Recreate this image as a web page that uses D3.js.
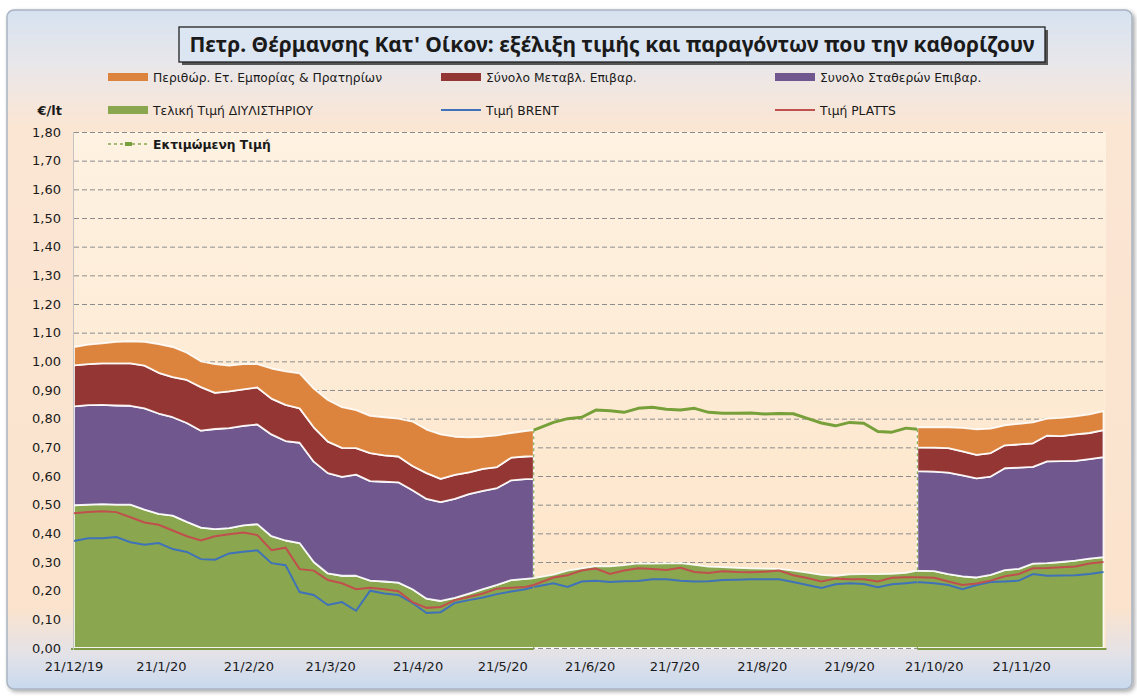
<!DOCTYPE html>
<html>
<head>
<meta charset="UTF-8">
<title>Πετρ. Θέρμανσης Κατ' Οίκον</title>
<script src="https://d3js.org/d3.v7.min.js"></script>
<style>
  body { margin: 0; background: #fff; }
  text { font-family: "DejaVu Sans", Verdana, sans-serif; fill: #1a1a1a; }
</style>
</head>
<body>
<svg id="chart" width="1137" height="696"></svg>
<script>
// ημερομηνίες (κατηγορίες)
const dates = ["2019-12-21","2019-12-26","2019-12-31","2020-01-05","2020-01-10","2020-01-15","2020-01-20","2020-01-25","2020-01-30",
  "2020-02-04","2020-02-09","2020-02-14","2020-02-19","2020-02-24","2020-02-29","2020-03-05","2020-03-10","2020-03-15","2020-03-20",
  "2020-03-25","2020-03-30","2020-04-04","2020-04-09","2020-04-14","2020-04-19","2020-04-24","2020-04-29","2020-05-04","2020-05-09",
  "2020-05-14","2020-05-19","2020-05-24","2020-05-29","2020-06-01",
  "2020-06-08","2020-06-13","2020-06-18","2020-06-23","2020-06-28","2020-07-03","2020-07-08","2020-07-13","2020-07-18","2020-07-23",
  "2020-07-28","2020-08-02","2020-08-07","2020-08-12","2020-08-17","2020-08-22","2020-08-27","2020-09-01","2020-09-06","2020-09-11",
  "2020-09-16","2020-09-21","2020-09-26","2020-10-01","2020-10-06","2020-10-11",
  "2020-10-15","2020-10-21","2020-10-26","2020-10-31","2020-11-05","2020-11-10","2020-11-15","2020-11-20","2020-11-25","2020-11-30",
  "2020-12-05","2020-12-10","2020-12-15","2020-12-20"];

// Τελική Τιμή ΔΙΥΛΙΣΤΗΡΙΟΥ
const refinery = [.498,.50,.502,.50,.50,.483,.468,.462,.44,.42,.415,.418,.428,.432,.39,.375,.366,.30,.26,.252,.252,.235,.232,.228,.205,.172,.164,.175,.19,.205,.22,.237,.241,
  .244,
  .256,.27,.278,.286,.285,.289,.295,.294,.295,.296,.29,.284,.282,.28,.278,.277,.276,.27,.263,.255,.252,.257,.258,.258,.259,.262,
  .27,
  .268,.258,.25,.246,.255,.272,.276,.294,.296,.30,.305,.312,.317];
// Συνολο Σταθερών Επιβαρ.
const fixedCharges = [.345,.347,.346,.346,.345,.353,.35,.343,.345,.338,.349,.349,.347,.348,.355,.347,.35,.35,.35,.345,.353,.347,.348,.35,.345,.348,.345,.345,.347,.343,.338,.348,.348,
  .345,
  null,null,null,null,null,null,null,null,null,null,null,null,null,null,null,null,null,null,null,null,null,null,null,null,null,null,
  .347,
  .347,.354,.352,.346,.343,.355,.353,.338,.355,.352,.348,.347,.349];
// Σύνολο Μεταβλ. Επιβαρ.
const varCharges = [.143,.143,.145,.147,.148,.149,.142,.14,.15,.152,.126,.128,.127,.129,.125,.126,.12,.12,.11,.101,.092,.098,.092,.09,.085,.09,.081,.084,.076,.077,.073,.079,.079,
  .08,
  null,null,null,null,null,null,null,null,null,null,null,null,null,null,null,null,null,null,null,null,null,null,null,null,null,null,
  .083,
  .084,.085,.084,.082,.082,.08,.081,.082,.09,.087,.092,.091,.094];
// Περιθώρ. Ετ. Εμπορίας & Πρατηρίων
const margin = [.064,.068,.07,.075,.077,.083,.10,.105,.095,.09,.10,.09,.088,.081,.105,.117,.122,.135,.145,.142,.133,.13,.133,.132,.155,.152,.155,.133,.122,.112,.111,.086,.089,
  .091,
  null,null,null,null,null,null,null,null,null,null,null,null,null,null,null,null,null,null,null,null,null,null,null,null,null,null,
  .07,
  .071,.073,.082,.089,.085,.07,.072,.073,.059,.064,.063,.065,.066];
// Τιμή BRENT
const brent = [.373,.383,.383,.387,.369,.36,.366,.345,.335,.31,.308,.33,.336,.341,.296,.289,.195,.185,.15,.16,.13,.2,.19,.185,.157,.122,.125,.157,.167,.176,.188,.197,.205,
  .213,
  .226,.213,.232,.235,.23,.233,.234,.24,.24,.235,.232,.233,.237,.238,.24,.24,.24,.23,.22,.209,.222,.226,.223,.212,.222,.226,
  .23,
  .226,.22,.205,.22,.23,.232,.235,.258,.252,.253,.254,.258,.265];
// Τιμή PLATTS
const platts = [.47,.474,.477,.474,.456,.438,.43,.41,.39,.375,.39,.397,.403,.394,.341,.35,.275,.27,.237,.226,.205,.21,.205,.198,.16,.14,.143,.167,.178,.19,.207,.21,.213,
  .22,
  .246,.254,.27,.277,.258,.27,.278,.276,.272,.28,.265,.262,.268,.265,.264,.266,.27,.254,.244,.232,.242,.24,.24,.232,.245,.247,
  .247,
  .245,.232,.22,.225,.235,.25,.258,.278,.279,.282,.284,.295,.30];
// Εκτιμώμενη Τιμή
const estimate = [null,null,null,null,null,null,null,null,null,null,null,null,null,null,null,null,null,null,null,null,null,null,null,null,null,null,null,null,null,null,null,null,null,
  .76,
  .787,.80,.805,.83,.828,.822,.836,.84,.833,.83,.836,.822,.819,.819,.82,.816,.818,.817,.801,.785,.775,.787,.784,.755,.753,.767,
  .763,
  null,null,null,null,null,null,null,null,null,null,null,null,null];

const yTicks = [0,0.1,0.2,0.3,0.4,0.5,0.6,0.7,0.8,0.9,1.0,1.1,1.2,1.3,1.4,1.5,1.6,1.7,1.8];
const xTicks = ["2019-12-21","2020-01-21","2020-02-21","2020-03-21","2020-04-21","2020-05-21","2020-06-21","2020-07-21","2020-08-21","2020-09-21","2020-10-21","2020-11-21"];

const title = "Πετρ. Θέρμανσης Κατ' Οίκον: εξέλιξη τιμής και παραγόντων που την καθορίζουν";
const colors = {refinery:"#8aa64e", fixedCharges:"#70588e", varCharges:"#943634", margin:"#dc843d",
  brent:"#3f72b8", platts:"#c0504d", estimate:"#77a03a"};

const parse = d3.timeParse("%Y-%m-%d");
const rows = dates.map((d,i) => ({date: parse(d), refinery: refinery[i], fixedCharges: fixedCharges[i],
  varCharges: varCharges[i], margin: margin[i], brent: brent[i], platts: platts[i], estimate: estimate[i]}));

const svg = d3.select("#chart");
const defs = svg.append("defs");

const bg = defs.append("linearGradient").attr("id","bg").attr("x1",0).attr("y1",0).attr("x2",0).attr("y2",1);
[[0,"#d6e2f0"],[0.08,"#e9e7ea"],[0.17,"#fbe6d4"],[0.88,"#fbe3cd"],[0.95,"#e3e2e8"],[1,"#c8d9ee"]]
  .forEach(s => bg.append("stop").attr("offset",s[0]).attr("stop-color",s[1]));
const pg = defs.append("linearGradient").attr("id","plotbg").attr("x1",0).attr("y1",0).attr("x2",0).attr("y2",1);
[[0,"#fef2e2"],[1,"#fde3c6"]].forEach(s => pg.append("stop").attr("offset",s[0]).attr("stop-color",s[1]));
const sh = defs.append("filter").attr("id","shadow").attr("x","-5%").attr("y","-5%").attr("width","110%").attr("height","115%");
sh.append("feDropShadow").attr("dx",2).attr("dy",2).attr("stdDeviation",2).attr("flood-color","#000").attr("flood-opacity",0.35);

// πλαίσιο γραφήματος
svg.append("rect").attr("x",7).attr("y",10).attr("width",1125).attr("height",679).attr("rx",7)
  .attr("fill","url(#bg)").attr("stroke","#a9b4c2").attr("stroke-width",1.5).attr("filter","url(#shadow)");

const x = d3.scaleTime().domain([parse("2019-12-21"), parse("2020-12-20")]).range([74, 1103.5]);
const y = d3.scaleLinear().domain([0, 1.8]).range([648, 132]);

// περιοχή σχεδίασης
svg.append("rect").attr("x",74).attr("y",y(1.8)).attr("width",1032).attr("height",y(0)-y(1.8)).attr("fill","url(#plotbg)");

svg.append("g").selectAll("line").data(yTicks.filter(t => t > 0)).join("line")
  .attr("x1",74).attr("x2",1106).attr("y1",d => y(d)+0.5).attr("y2",d => y(d)+0.5)
  .attr("stroke","#8c8c8c").attr("stroke-width",1).attr("stroke-dasharray","5,3");

// σωρευτικές περιοχές
const keys = ["refinery","fixedCharges","varCharges","margin"];
const stacked = d3.stack().keys(keys).value((d,k) => d[k] == null ? 0 : d[k])(rows);
stacked.forEach(s => {
  const area = d3.area().defined((d,i) => rows[i][s.key] != null)
    .x((d,i) => x(rows[i].date)).y0(d => y(d[0])).y1(d => y(d[1]));
  svg.append("path").datum(s).attr("d", area).attr("fill", colors[s.key])
    .attr("stroke","#fff").attr("stroke-opacity",0.9).attr("stroke-width",1.8).attr("stroke-linejoin","round");
});

// γραμμή μηδενός
svg.append("line").attr("x1",74).attr("x2",1106).attr("y1",y(0)+0.5).attr("y2",y(0)+0.5)
  .attr("stroke","#8c8c8c").attr("stroke-dasharray","5,3");
const segs = [[rows[0].date, parse("2020-06-01")], [parse("2020-10-15"), rows[rows.length-1].date]];
svg.append("g").selectAll("line").data(segs).join("line")
  .attr("x1",(d,i) => i === 0 ? 71 : x(d[0])).attr("x2",(d,i) => x(d[1]) + (i === 1 ? 3 : 0))
  .attr("y1",y(0)+1).attr("y2",y(0)+1).attr("stroke","#7f9a45").attr("stroke-width",2.2);

// άξονας Υ
svg.append("line").attr("x1",73.5).attr("x2",73.5).attr("y1",y(1.8)).attr("y2",y(0)+2).attr("stroke","#c4c4c4");

// γραμμές τιμών
const line = key => d3.line().defined(d => d[key] != null).x(d => x(d.date)).y(d => y(d[key]));
svg.append("path").datum(rows).attr("d", line("brent")).attr("fill","none").attr("stroke",colors.brent).attr("stroke-width",2);
svg.append("path").datum(rows).attr("d", line("platts")).attr("fill","none").attr("stroke",colors.platts).attr("stroke-width",2);

// εκτιμώμενη τιμή + κατακόρυφες γραμμές
const est = rows.filter(d => d.estimate != null);
const ends = [est[0], est[est.length-1]];
svg.append("g").selectAll("line").data(ends).join("line")
  .attr("x1",d => x(d.date)).attr("x2",d => x(d.date)).attr("y1",d => y(d.estimate)).attr("y2",y(0))
  .attr("stroke","#8aa64e").attr("stroke-width",1.2).attr("stroke-dasharray","3,3");
svg.append("path").datum(rows).attr("d", line("estimate")).attr("fill","none")
  .attr("stroke",colors.estimate).attr("stroke-width",3).attr("stroke-linejoin","round");

// ετικέτες αξόνων
svg.append("g").selectAll("text").data(yTicks).join("text")
  .attr("x",61).attr("y",d => y(d)).attr("dy","0.36em").attr("text-anchor","end").attr("font-size",13)
  .text(d => d3.format(".2f")(d).replace(".", ","));
const fmt = d3.timeFormat("%-d/%-m/%y");
svg.append("g").selectAll("text").data(xTicks).join("text")
  .attr("x",d => x(parse(d))).attr("y",671).attr("text-anchor","middle").attr("font-size",13)
  .text(d => fmt(parse(d)));
svg.append("text").attr("x",62).attr("y",115).attr("text-anchor","end").attr("font-size",13)
  .attr("font-weight","bold").text("€/lt");

// τίτλος
svg.append("rect").attr("x",182).attr("y",30).attr("width",866).attr("height",35).attr("fill","#555");
svg.append("rect").attr("x",179).attr("y",27).attr("width",866).attr("height",35)
  .attr("fill","#dce6f2").attr("stroke","#222").attr("stroke-width",1.3);
svg.append("text").attr("x",612).attr("y",52).attr("text-anchor","middle").attr("font-size",21)
  .style("font-family","'Noto Sans', 'Open Sans', sans-serif")
  .attr("font-weight","bold").text(title);

// υπόμνημα
const legend = [
  {label:"Περιθώρ. Ετ. Εμπορίας & Πρατηρίων", key:"margin", type:"box", x:108, y:77},
  {label:"Σύνολο Μεταβλ. Επιβαρ.", key:"varCharges", type:"box", x:441, y:77},
  {label:"Συνολο Σταθερών Επιβαρ.", key:"fixedCharges", type:"box", x:775, y:77},
  {label:"Τελική Τιμή ΔΙΥΛΙΣΤΗΡΙΟΥ", key:"refinery", type:"box", x:108, y:110},
  {label:"Τιμή BRENT", key:"brent", type:"line", x:441, y:110},
  {label:"Τιμή PLATTS", key:"platts", type:"line", x:775, y:110},
  {label:"Εκτιμώμενη Τιμή", key:"estimate", type:"dash", x:108, y:144}
];
const lg = svg.append("g").selectAll("g").data(legend).join("g").attr("transform", d => `translate(${d.x},${d.y})`);
lg.filter(d => d.type === "box").append("rect").attr("x",0).attr("y",-4).attr("width",40).attr("height",8)
  .attr("fill", d => colors[d.key]);
lg.filter(d => d.type === "line").append("line").attr("x1",0).attr("x2",40).attr("y1",0).attr("y2",0)
  .attr("stroke", d => colors[d.key]).attr("stroke-width",2);
const dl = lg.filter(d => d.type === "dash");
dl.append("line").attr("x1",0).attr("x2",40).attr("y1",0).attr("y2",0)
  .attr("stroke","#8aa64e").attr("stroke-width",1.3).attr("stroke-dasharray","3,3");
dl.append("rect").attr("x",17).attr("y",-2).attr("width",7).attr("height",4).attr("fill",colors.estimate);
lg.append("text").attr("x",45).attr("y",4.5).attr("font-size",12.3)
  .attr("font-weight", d => d.type === "dash" ? "bold" : "normal").text(d => d.label);
</script>
</body>
</html>
